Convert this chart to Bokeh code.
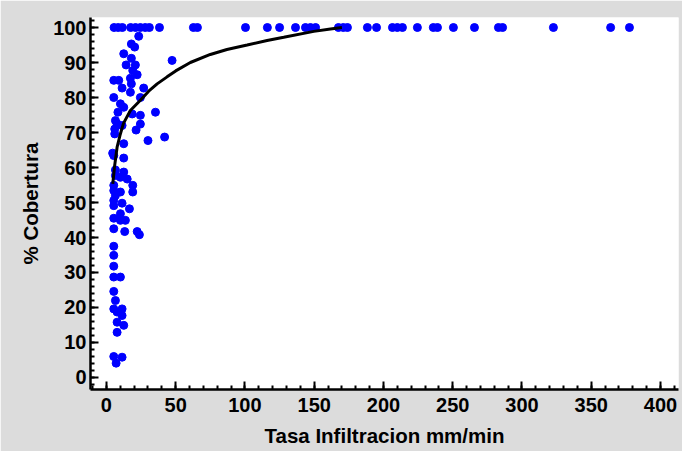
from bokeh.plotting import figure
from bokeh.models import Range1d, SingleIntervalTicker, ColumnDataSource
from bokeh.embed import file_html
from bokeh.resources import INLINE

# Points at 100 % cover
top_x = [5.5, 8.5, 11.5, 17.5, 21, 24.5, 28, 31, 38.3, 62.8, 65.7, 100.4, 116.2, 125,
         136.5, 143.7, 147.3, 151, 167.5, 171, 174, 188.4, 195, 206.5, 210, 213.7, 224.5,
         236, 239, 250.5, 265.7, 283, 286, 322.7, 364, 377.6]
top_y = [100] * len(top_x)

# Remaining observations
obs_x = [23.3, 18, 20.4, 12.5, 18, 47.4, 14.2, 20.9, 19, 22.2, 17.3, 5.3, 8.9, 18, 11.3,
         17.3, 26.9, 5.3, 24.5, 10.1, 12.5, 8.3, 18.6, 35.4,
         6.5, 7.7, 11.3, 24.5, 24.5, 21.4, 6, 6, 30, 42, 12.5, 4.5, 5.3, 12.5, 6.5, 12.5,
         6.5, 10.1, 15, 19, 19, 5.3, 5.3, 10.1, 6.5, 5.3, 5.3, 11.3, 16.6,
         5.3, 10.1, 10.1, 13.7, 5.3, 13.2, 22.2, 23.8, 5.3, 5.3, 5.3, 5.3, 10.1, 5.3, 6.5,
         5.3, 7.7, 11.3, 11.3, 7.7, 12.5, 7.7, 5.3, 11.3, 7]
obs_y = [97.5, 95.3, 94.4, 92.5, 91.2, 90.6, 89.3, 89.3, 87.7, 86.5, 85.5, 84.9, 84.9, 83.9, 82.7,
         81.5, 82.7, 80, 80, 78.2, 77.2, 75.8, 75.3, 75.8,
         73.4, 72.5, 72, 74.9, 72.4, 70.7, 71, 69.6, 67.7, 68.7, 66.8, 64.1, 63.4, 62.7, 59.3, 58.7,
         57.7, 57.2, 56.7, 54.9, 53, 54.9, 53.4, 53, 52, 50.6, 49.1, 49.8, 48.2,
         45.5, 46.8, 44.9, 44.9, 42.5, 41.7, 41.7, 40.8, 37.5, 34.9, 31.8, 28.7, 28.7, 24.6, 22,
         19.6, 18.7, 19.6, 17.7, 15.8, 14.9, 12.9, 6, 5.8, 4.1]

# Fitted curve
fit_x = [4.6, 5.8, 7.7, 10, 12.3, 17.3, 24.5, 30.5, 36.6, 43.8, 50, 60.6, 75, 87, 101.6,
         116, 128, 149.7, 161.7, 170]
fit_y = [55.3, 60.1, 65.8, 69.5, 72.6, 76.3, 79.2, 81.8, 83.9, 85.9, 87.6, 90.0, 92.3, 93.7,
         95.0, 96.3, 97.2, 98.9, 99.6, 100]

p = figure(width=682, height=451, output_backend="svg", toolbar_location=None,
           x_range=Range1d(-11.5, 413), y_range=Range1d(-3.43, 102.86),
           min_border_left=90, min_border_right=4, min_border_top=17, min_border_bottom=62)

p.background_fill_color = "white"
p.border_fill_color = "#dcdcdc"
p.outline_line_color = None
p.grid.visible = False

src_pts = ColumnDataSource(dict(x=top_x + obs_x, y=top_y + obs_y))
p.scatter("x", "y", source=src_pts, size=8, color="#0000ff", line_color="#0000ff")
p.line(fit_x, fit_y, line_color="black", line_width=3)

p.xaxis.ticker = SingleIntervalTicker(interval=50, num_minor_ticks=5)
p.yaxis.ticker = SingleIntervalTicker(interval=10, num_minor_ticks=5)

for ax in (p.xaxis, p.yaxis):
    ax.axis_line_color = "black"
    ax.axis_line_width = 2.5
    ax.major_tick_line_color = "black"
    ax.major_tick_line_width = 2
    ax.minor_tick_line_color = "black"
    ax.minor_tick_line_width = 2
    ax.major_tick_in = 8
    ax.major_tick_out = 0
    ax.minor_tick_in = 4
    ax.minor_tick_out = 0
    ax.major_label_text_font = "Liberation Sans"
    ax.major_label_text_font_style = "bold"
    ax.major_label_text_font_size = "20px"
    ax.major_label_text_color = "black"
    ax.axis_label_text_font = "Liberation Sans"
    ax.axis_label_text_font_style = "bold"
    ax.axis_label_text_font_size = "20.5px"
    ax.axis_label_text_color = "black"

p.xaxis.axis_label = "Tasa Infiltracion mm/min"
p.yaxis.axis_label = "% Cobertura"
p.xaxis.major_label_standoff = 8
p.yaxis.major_label_standoff = 4
p.xaxis.axis_label_standoff = 9
p.yaxis.axis_label_standoff = 8

open("out.html", "w").write(file_html(p, INLINE))
